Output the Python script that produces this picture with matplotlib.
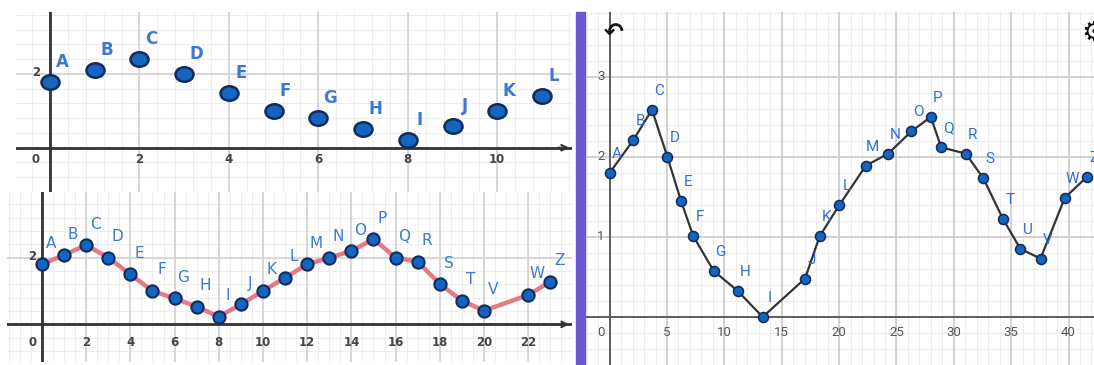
import numpy as np
import matplotlib
matplotlib.use('Agg')
import matplotlib.pyplot as plt
from matplotlib.path import Path
from matplotlib.patches import Rectangle

# top-left sketch: points only
top_labels = list('ABCDEFGHIJKL')
top_x = [0, 1, 2, 3, 4, 5, 6, 7, 8, 9, 10, 11]
top_y = [1.79, 2.10, 2.40, 2.0, 1.49, 1.0, 0.80, 0.50, 0.20, 0.60, 1.0, 1.40]

# bottom-left sketch: joined points
bot_labels = list('ABCDEFGHIJKLMNOPQRST') + ['V', 'W', 'Z']
bot_x = list(range(21)) + [22, 23]
bot_y = [1.80, 2.08, 2.38, 2.0, 1.50, 1.0, 0.78, 0.53, 0.23, 0.60, 1.0, 1.40,
         1.80, 2.0, 2.20, 2.56, 2.0, 1.88, 1.21, 0.71, 0.41, 0.88, 1.28]

# right: plotted version
right_labels = list('ABCDEFGHIJKLMNOPQRSTUVW') + ['Z']
right_x = [0, 2.06, 3.69, 5.03, 6.22, 7.29, 9.07, 11.16, 13.34, 17.03, 18.31, 20.03,
           22.33, 24.27, 26.31, 27.99, 28.90, 31.05, 32.58, 34.30, 35.81, 37.56, 39.68, 41.6]
right_y = [1.80, 2.21, 2.59, 2.0, 1.45, 1.01, 0.575, 0.325, 0.0, 0.48, 1.01, 1.40,
           1.89, 2.04, 2.32, 2.50, 2.12, 2.04, 1.73, 1.22, 0.85, 0.73, 1.49, 1.75]

top_ticks = [0, 2, 4, 6, 8, 10]
bot_ticks = [0, 2, 4, 6, 8, 10, 12, 14, 16, 18, 20, 22]
right_ticks = [0, 5, 10, 15, 20, 25, 30, 35, 40]

W, H = 1094, 365
fig = plt.figure(figsize=(W / 100, H / 100), dpi=100)


def px_axes(l, t, r, b):
    ax = fig.add_axes([l / W, 1 - b / H, (r - l) / W, (b - t) / H])
    for s in ax.spines.values():
        s.set_visible(False)
    ax.tick_params(which='both', length=0, labelbottom=False, labelleft=False)
    return ax


def grid(ax, xmaj, xmin, ymaj, ymin, majc='#d2d2d2', minc='#eeeeee'):
    x0, x1 = ax.get_xlim()
    y0, y1 = ax.get_ylim()
    for v in np.arange(np.floor(x0 / xmin) * xmin, x1, xmin):
        ax.axvline(v, color=minc, lw=0.8, zorder=0)
    for v in np.arange(np.floor(y0 / ymin) * ymin, y1, ymin):
        ax.axhline(v, color=minc, lw=0.8, zorder=0)
    for v in np.arange(np.floor(x0 / xmaj) * xmaj, x1, xmaj):
        ax.axvline(v, color=majc, lw=1.2, zorder=0.5)
    for v in np.arange(np.floor(y0 / ymaj) * ymaj, y1, ymaj):
        ax.axhline(v, color=majc, lw=1.2, zorder=0.5)


# ellipse marker for the stretched sketch
circ = Path.unit_circle()
ell = Path(circ.vertices * [1.25, 1.0], circ.codes)

blue = '#1565c0'
edge = '#0f2c5c'
lab_blue = '#3b7ad0'

# ---- top-left
ax1 = px_axes(16, 12, 572, 192)
ax1.set_xlim(-0.76, 11.67)
ax1.set_ylim(-1.20, 3.68)
grid(ax1, 2, 0.4, 2, 0.4)
ax1.axvline(0, color='#333333', lw=2, zorder=1)
ax1.axhline(0, color='#333333', lw=2, zorder=1)
ax1.annotate('', xy=(11.67, 0), xytext=(11.3, 0),
             arrowprops=dict(arrowstyle='->', color='#333333', lw=1.5))
ax1.plot(top_x, top_y, ls='none', marker=ell, ms=13, mfc=blue, mec=edge, mew=1.8, zorder=3)
for lab, x, y in zip(top_labels, top_x, top_y):
    ax1.annotate(lab, (x, y), xytext=(12, 20), textcoords='offset pixels',
                 ha='center', va='center', color=lab_blue, fontsize=12, fontweight='bold')
for t in top_ticks:
    ax1.text(t - 0.33 if t == 0 else t, -0.33, str(t), ha='center', va='center',
             fontsize=8.5, fontweight='bold', color='#444444')
ax1.text(-0.3, 2.05, '2', ha='center', va='center', fontsize=8.5, fontweight='bold', color='#444444')

# ---- bottom-left
ax2 = px_axes(7, 192, 572, 362)
ax2.set_xlim(-1.58, 23.98)
ax2.set_ylim(-1.13, 3.97)
grid(ax2, 2, 0.5, 2, 0.4)
ax2.axvline(0, color='#333333', lw=2, zorder=1)
ax2.axhline(0, color='#333333', lw=2, zorder=1)
ax2.annotate('', xy=(23.98, 0), xytext=(23.3, 0),
             arrowprops=dict(arrowstyle='->', color='#333333', lw=1.5))
ax2.plot(bot_x, bot_y, color='#e57a86', lw=3.2, zorder=2)
ax2.plot(bot_x, bot_y, ls='none', marker='o', ms=8.8, mfc=blue, mec=edge, mew=1.5, zorder=3)
for lab, x, y in zip(bot_labels, bot_x, bot_y):
    ax2.annotate(lab, (x, y), xytext=(9, 21), textcoords='offset pixels',
                 ha='center', va='center', color=lab_blue, fontsize=11)
for t in bot_ticks:
    ax2.text(t - 0.42 if t == 0 else t, -0.55, str(t), ha='center', va='center',
             fontsize=8.5, fontweight='bold', color='#444444')
ax2.text(-0.45, 2.03, '2', ha='center', va='center', fontsize=8.5, fontweight='bold', color='#444444')

# ---- purple divider
fig.patches.append(Rectangle((576 / W, 0), 9 / W, 1 - 12 / H, transform=fig.transFigure,
                             color='#6a55d2', zorder=5))

# ---- right
ax3 = px_axes(585, 12, 1094, 365)
ax3.set_xlim(-2.15, 42.22)
ax3.set_ylim(-0.60, 3.81)
grid(ax3, 5, 1, 1, 0.2, majc='#cccccc', minc='#ededed')
ax3.axvline(0, color='#555555', lw=1.3, zorder=1)
ax3.axhline(0, color='#555555', lw=1.3, zorder=1)
ax3.plot(right_x, right_y, color='#333333', lw=1.6, zorder=2)
ax3.plot(right_x, right_y, ls='none', marker='o', ms=7.2, mfc=blue, mec='#0d2a55', mew=1.1, zorder=3)
for lab, x, y in zip(right_labels, right_x, right_y):
    ax3.annotate(lab, (x, y), xytext=(7, 19), textcoords='offset pixels',
                 ha='center', va='center', color='#2f6fd6', fontsize=11, family='Roboto')
for t in right_ticks:
    ax3.text(t - 0.75 if t == 0 else t, -0.19, str(t), ha='center', va='center',
             fontsize=9.5, color='#555555', family='Roboto')
for t in [1, 2, 3]:
    ax3.text(-0.75, t, str(t), ha='center', va='center', fontsize=9.5, color='#555555', family='Roboto')
ax3.text(0.3, 3.55, '\u21b6', ha='center', va='center', fontsize=17, fontweight='bold', color='#111111')
ax3.text(41.15, 3.55, '\u2699', ha='left', va='center', fontsize=20, color='#111111', clip_on=True)

fig.savefig('out.png', dpi=100)
